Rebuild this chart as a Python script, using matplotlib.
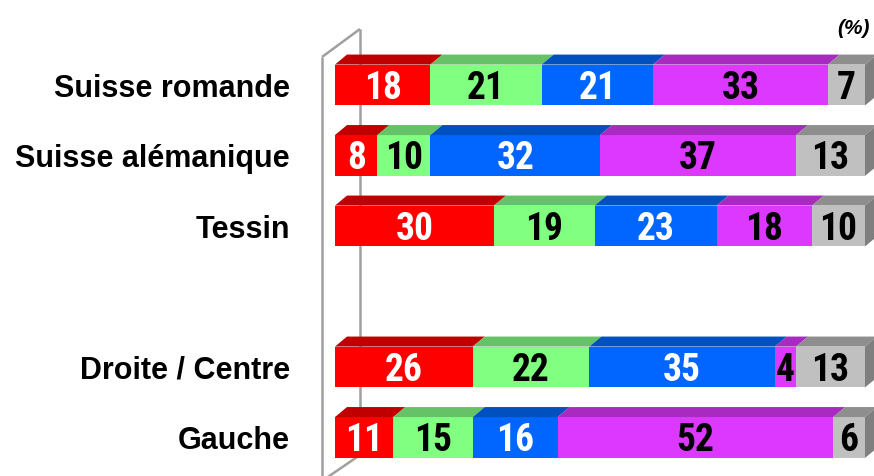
import matplotlib
matplotlib.use("Agg")
import matplotlib.pyplot as plt
from matplotlib.patches import Polygon
from matplotlib import font_manager as fm

categories = ["Suisse romande", "Suisse alémanique", "Tessin", "", "Droite / Centre", "Gauche"]
series_a = [18, 8, 30, None, 26, 11]   # red
series_b = [21, 10, 19, None, 22, 15]  # green
series_c = [21, 32, 23, None, 35, 16]  # blue
series_d = [33, 37, 18, None, 4, 52]   # purple
series_e = [7, 13, 10, None, 13, 6]    # grey
unit_label = "(%)"

front_colors = ["#FF0000", "#80FF80", "#0066FF", "#DD38FF", "#C0C0C0"]
top_colors = ["#C00000", "#66C266", "#0050C0", "#A82AC0", "#8E8E8E"]
side_color = "#7F7F7F"
text_colors = ["white", "black", "white", "black", "black"]

names = {f.name for f in fm.fontManager.ttflist}
regular = "Liberation Sans" if "Liberation Sans" in names else "DejaVu Sans"


def find_condensed():
    prefs = ["liberation sans narrow", "arial narrow", "roboto condensed",
             "noto sans condensed", "open sans condensed", "dejavu sans condensed"]
    best = None
    best_score = None
    for f in fm.fontManager.ttflist:
        key = (f.name + " " + f.fname).lower()
        is_cond = ("narrow" in key or "condensed" in key or "cond" in f.fname.lower()
                   or f.stretch in ("condensed", "semi-condensed"))
        if not is_cond:
            continue
        if "extra" in key or "ultra" in key or "semi" in key or "mono" in key or "serif" in key.replace("sans-serif", ""):
            continue
        w = f.weight
        try:
            w = int(w)
        except Exception:
            w = 700 if str(w).lower() == "bold" else 400
        is_it = f.style in ("italic", "oblique")
        score = 0
        for k, p in enumerate(prefs):
            if p in key:
                score += (len(prefs) - k) * 10
                break
        score -= abs(w - 700) / 100.0 * 5
        score -= 20 if is_it else 0
        if best_score is None or score > best_score:
            best, best_score = f, score
    return best


cf = find_condensed()
if cf is not None:
    val_fp = fm.FontProperties(fname=cf.fname, size=27)
else:
    val_fp = fm.FontProperties(family=regular, weight="bold", size=20)
unit_fp = fm.FontProperties(family=regular, weight="bold", style="italic", size=15)

W, H = 874, 477
fig = plt.figure(figsize=(W / 100, H / 100), dpi=100)
ax = fig.add_axes([0, 0, 1, 1])
px_per_pct = 5.3
x0_px = 335
ax.set_xlim(-x0_px / px_per_pct, (W - x0_px) / px_per_pct)
row0_px, row_step = 86, 70.5
ax.set_ylim((H - row0_px) / row_step, -row0_px / row_step)
ax.axis("off")

bar_h = 0.58
dx = 12 / px_per_pct
dy = 10 / row_step

# wall
wx_front = -13 / px_per_pct
wx_back = 25 / px_per_pct
wtop = (58 - row0_px) / row_step
wtop_back = (30 - row0_px) / row_step
wbot = (482 - row0_px) / row_step
wbot_back = (456 - row0_px) / row_step
wall_kw = dict(color="#A0A0A0", lw=1.8, solid_capstyle="butt", zorder=1)
ax.plot([wx_front, wx_front], [wtop, wbot], **wall_kw)
ax.plot([wx_front, wx_back], [wtop, wtop_back], **wall_kw)
ax.plot([wx_back, wx_back], [wtop_back, wbot_back], **wall_kw)
ax.plot([wx_front, wx_back], [wbot, wbot_back], **wall_kw)

series = [series_a, series_b, series_c, series_d, series_e]
for i, cat in enumerate(categories):
    if series_a[i] is None:
        continue
    left = 0
    top = i - bar_h / 2
    bot = i + bar_h / 2
    for s, vals in enumerate(series):
        v = vals[i]
        right = left + v
        ax.barh(i, v, left=left, height=bar_h, color=front_colors[s], zorder=3, linewidth=0)
        ax.add_patch(Polygon([(left, top), (left + dx, top - dy), (right + dx, top - dy), (right, top)],
                             closed=True, facecolor=top_colors[s], edgecolor="none", zorder=3))
        ax.text(left + v / 2, i + 0.03, str(v), ha="center", va="center", color=text_colors[s],
                fontproperties=val_fp, zorder=5)
        left = right
    ax.add_patch(Polygon([(left, top), (left + dx, top - dy), (left + dx, bot - dy), (left, bot)],
                         closed=True, facecolor=side_color, edgecolor="none", zorder=3))
    ax.text(-45 / px_per_pct, i + 0.04, cat, ha="right", va="center", color="black",
            fontsize=22, fontweight="bold", family=[regular, "DejaVu Sans"])

ax.text((870 - x0_px) / px_per_pct, (28 - row0_px) / row_step, unit_label, ha="right", va="center",
        fontproperties=unit_fp)

fig.savefig("out.png", dpi=100)
